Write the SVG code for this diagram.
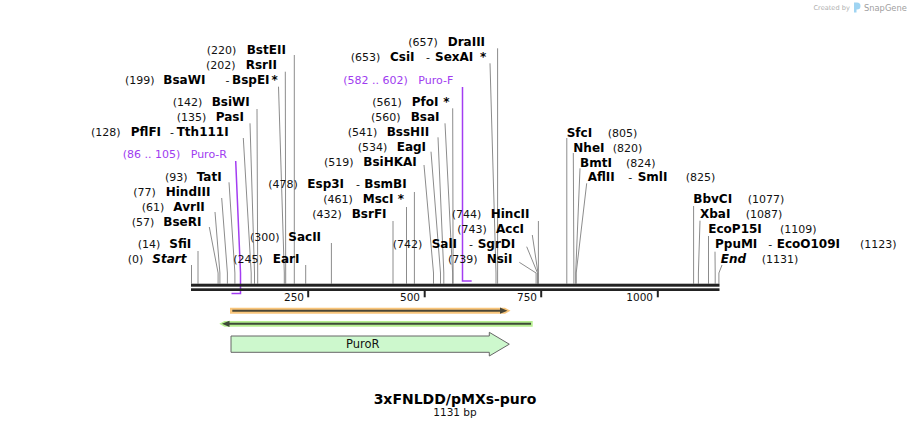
<svg xmlns="http://www.w3.org/2000/svg" width="911" height="429" viewBox="0 0 911 429">
<style>
text{font-family:"DejaVu Sans",Verdana,sans-serif;font-size:11px;fill:#111}
.e{font-weight:bold;font-size:12px;fill:#000}
.i{font-weight:bold;font-style:italic;font-size:12px;fill:#000}
.pr{fill:#a03cf0}
.cut{fill:none;stroke:#8c8c8c;stroke-width:1}
.pl{fill:none;stroke:#a33cf2;stroke-width:1.5}
.tk{font-size:10.5px}
.bb{fill:#222}
</style>
<rect width="911" height="429" fill="#fff"/>
<g id="credit">
<text x="813.5" y="10" style="font-size:6.6px;fill:#b0b0b0">Created by</text>
<path d="M854,2.5 h3 a3.5,3.5 0 0 1 0,7 h-0.5 v3 h-2.5 z" fill="#9fd4f2"/>
<text x="864" y="10.7" style="font-size:8.3px;fill:#a0a0a0">SnapGene</text>
</g>
<g id="connectors">
<path class="cut" d="M191.5,265 V283.7"/>
<path class="cut" d="M198,251 V283.7"/>
<path class="cut" d="M209.3,227 L218.1,273 V283.7"/>
<path class="cut" d="M215,212 L219.9,273 V283.7"/>
<path class="cut" d="M221.7,198 L227.4,273 V283.7"/>
<path class="cut" d="M229,182.3 L234.9,273 V283.7"/>
<path class="cut" d="M243.3,138 L251.2,273 V283.7"/>
<path class="cut" d="M250,123.3 L254.5,273 V283.7"/>
<path class="cut" d="M257,109 L257.7,273 V283.7"/>
<path class="cut" d="M278.5,86.7 L284.3,273 V283.7"/>
<path class="cut" d="M285.3,71.7 L285.7,273 V283.7"/>
<path class="cut" d="M294.3,55 V283.7"/>
<path class="cut" d="M305.7,265 V283.7"/>
<path class="cut" d="M331.4,243 V283.7"/>
<path class="cut" d="M393,221 V283.7"/>
<path class="cut" d="M406.5,207 V283.7"/>
<path class="cut" d="M414.4,192 V283.7"/>
<path class="cut" d="M424,165 L433.5,273 V283.7"/>
<path class="cut" d="M431,151.7 L440.5,273 V283.7"/>
<path class="cut" d="M438,137.3 L443.8,273 V283.7"/>
<path class="cut" d="M445,123.3 L452.6,273 V283.7"/>
<path class="cut" d="M452.7,108.3 L453.1,273 V283.7"/>
<path class="cut" d="M490,63.3 L496,273 V283.7"/>
<path class="cut" d="M497.6,48.3 V283.7"/>
<path class="cut" d="M519.3,262.3 L536.1,273 V283.7"/>
<path class="cut" d="M526.7,246.7 L537.5,273 V283.7"/>
<path class="cut" d="M532.3,235 L538,273 V283.7"/>
<path class="cut" d="M538.4,221 V283.7"/>
<path class="cut" d="M566.8,138 V283.7"/>
<path class="cut" d="M573.3,153 L573.9,273 V283.7"/>
<path class="cut" d="M580,168.3 L575.7,273 V283.7"/>
<path class="cut" d="M586.7,183.3 L576.2,273 V283.7"/>
<path class="cut" d="M693.6,206 V283.7"/>
<path class="cut" d="M700,220.7 L698.4,273 V283.7"/>
<path class="cut" d="M708.5,236 V283.7"/>
<path class="cut" d="M715,251.7 L715.2,273 V283.7"/>
<path class="cut" d="M722,265 L718.9,273 V283.7"/>
<path class="pl" d="M235.7,161 L240.5,273 V293.5 H231.5"/>
<path class="pl" d="M462.5,87 V281 H471.7"/>
</g>
<g id="backbone">
<rect class="bb" x="191" y="283.7" width="528.5" height="3"/>
<rect class="bb" x="191" y="288.3" width="528.5" height="2.7"/>
<rect class="bb" x="307.2" y="290.7" width="2" height="6.6"/>
<rect class="bb" x="423.7" y="290.7" width="2" height="6.6"/>
<rect class="bb" x="540.2" y="290.7" width="2" height="6.6"/>
<rect class="bb" x="656.8" y="290.7" width="2" height="6.6"/>
<text class="tk" x="304" y="300.7" text-anchor="end">250</text>
<text class="tk" x="420" y="300.7" text-anchor="end">500</text>
<text class="tk" x="537" y="300.7" text-anchor="end">750</text>
<text class="tk" x="653" y="300.7" text-anchor="end">1000</text>
</g>
<g id="site-BstEII"><text y="54"><tspan x="206.7">(220)</tspan><tspan class="e" x="246.7">BstEII</tspan></text></g>
<g id="site-RsrII"><text y="69"><tspan x="206">(202)</tspan><tspan class="e" x="245.7">RsrII</tspan></text></g>
<g id="site-BsaWI"><text y="84"><tspan x="125">(199)</tspan><tspan class="e" x="163.3">BsaWI</tspan><tspan x="225.5">-</tspan><tspan class="e" x="232">BspEI</tspan><tspan class="e" x="271.5">*</tspan></text></g>
<g id="site-BsiWI"><text y="106"><tspan x="172.7">(142)</tspan><tspan class="e" x="211.7">BsiWI</tspan></text></g>
<g id="site-PasI"><text y="121"><tspan x="176.7">(135)</tspan><tspan class="e" x="215.7">PasI</tspan></text></g>
<g id="site-PflFI"><text y="136"><tspan x="91">(128)</tspan><tspan class="e" x="130.7">PflFI</tspan><tspan x="170">-</tspan><tspan class="e" x="176.7">Tth111I</tspan></text></g>
<g id="primer-PuroR"><text class="pr" y="158"><tspan x="122.7">(86 .. 105)</tspan><tspan x="190.7">Puro-R</tspan></text></g>
<g id="site-TatI"><text y="181"><tspan x="165">(93)</tspan><tspan class="e" x="196.7">TatI</tspan></text></g>
<g id="site-HindIII"><text y="196"><tspan x="133.3">(77)</tspan><tspan class="e" x="165.7">HindIII</tspan></text></g>
<g id="site-AvrII"><text y="211"><tspan x="141.7">(61)</tspan><tspan class="e" x="173.3">AvrII</tspan></text></g>
<g id="site-BseRI"><text y="226"><tspan x="131.7">(57)</tspan><tspan class="e" x="163.3">BseRI</tspan></text></g>
<g id="site-SfiI"><text y="248"><tspan x="137.7">(14)</tspan><tspan class="e" x="169.3">SfiI</tspan></text></g>
<g id="site-Start"><text y="263"><tspan x="127.7">(0)</tspan><tspan class="i" x="152.3">Start</tspan></text></g>
<g id="site-EarI"><text y="263"><tspan x="233.3">(245)</tspan><tspan class="e" x="272.7">EarI</tspan></text></g>
<g id="site-SacII"><text y="241"><tspan x="250">(300)</tspan><tspan class="e" x="288.3">SacII</tspan></text></g>
<g id="site-BsrFI"><text y="218"><tspan x="312.3">(432)</tspan><tspan class="e" x="351.7">BsrFI</tspan></text></g>
<g id="site-MscI"><text y="203"><tspan x="323.3">(461)</tspan><tspan class="e" x="362.7">MscI</tspan><tspan class="e" x="397.7">*</tspan></text></g>
<g id="site-Esp3I"><text y="188"><tspan x="268.3">(478)</tspan><tspan class="e" x="307.3">Esp3I</tspan><tspan x="356">-</tspan><tspan class="e" x="364.3">BsmBI</tspan></text></g>
<g id="site-BsiHKAI"><text y="166"><tspan x="324">(519)</tspan><tspan class="e" x="363.3">BsiHKAI</tspan></text></g>
<g id="site-EagI"><text y="151"><tspan x="357.7">(534)</tspan><tspan class="e" x="396.7">EagI</tspan></text></g>
<g id="site-BssHII"><text y="136"><tspan x="347.7">(541)</tspan><tspan class="e" x="386.7">BssHII</tspan></text></g>
<g id="site-BsaI"><text y="121"><tspan x="371">(560)</tspan><tspan class="e" x="410.7">BsaI</tspan></text></g>
<g id="site-PfoI"><text y="106"><tspan x="372.3">(561)</tspan><tspan class="e" x="411.7">PfoI</tspan><tspan class="e" x="443.3">*</tspan></text></g>
<g id="primer-PuroF"><text class="pr" y="84"><tspan x="343.3">(582 .. 602)</tspan><tspan x="418.3">Puro-F</tspan></text></g>
<g id="site-CsiI"><text y="61"><tspan x="350.7">(653)</tspan><tspan class="e" x="390">CsiI</tspan><tspan x="426">-</tspan><tspan class="e" x="435">SexAI</tspan><tspan class="e" x="480">*</tspan></text></g>
<g id="site-DraIII"><text y="46"><tspan x="408.3">(657)</tspan><tspan class="e" x="447.7">DraIII</tspan></text></g>
<g id="site-HincII"><text y="218"><tspan x="451.7">(744)</tspan><tspan class="e" x="490.7">HincII</tspan></text></g>
<g id="site-AccI"><text y="233"><tspan x="457.3">(743)</tspan><tspan class="e" x="496">AccI</tspan></text></g>
<g id="site-SalI"><text y="248"><tspan x="392.7">(742)</tspan><tspan class="e" x="431.7">SalI</tspan><tspan x="469">-</tspan><tspan class="e" x="477.7">SgrDI</tspan></text></g>
<g id="site-NsiI"><text y="263"><tspan x="448">(739)</tspan><tspan class="e" x="486.7">NsiI</tspan></text></g>
<g id="site-SfcI"><text y="137"><tspan class="e" x="566.7">SfcI</tspan><tspan x="607.7">(805)</tspan></text></g>
<g id="site-NheI"><text y="152"><tspan class="e" x="573.3">NheI</tspan><tspan x="612.7">(820)</tspan></text></g>
<g id="site-BmtI"><text y="167"><tspan class="e" x="580">BmtI</tspan><tspan x="626">(824)</tspan></text></g>
<g id="site-AflII"><text y="181"><tspan class="e" x="587.7">AflII</tspan><tspan x="628.3">-</tspan><tspan class="e" x="637.7">SmlI</tspan><tspan x="685.7">(825)</tspan></text></g>
<g id="site-BbvCI"><text y="203"><tspan class="e" x="693.3">BbvCI</tspan><tspan x="747.7">(1077)</tspan></text></g>
<g id="site-XbaI"><text y="218"><tspan class="e" x="700">XbaI</tspan><tspan x="745.7">(1087)</tspan></text></g>
<g id="site-EcoP15I"><text y="233"><tspan class="e" x="708.3">EcoP15I</tspan><tspan x="780">(1109)</tspan></text></g>
<g id="site-PpuMI"><text y="248"><tspan class="e" x="715">PpuMI</tspan><tspan x="768.3">-</tspan><tspan class="e" x="776.7">EcoO109I</tspan><tspan x="860">(1123)</tspan></text></g>
<g id="site-End"><text y="263"><tspan class="i" x="720.7">End</tspan><tspan x="761.7">(1131)</tspan></text></g>
<g id="feature-orange">
<polygon points="230,307.7 505,307.7 510.5,310.7 505,313.7 230,313.7" fill="#f9c57a"/>
<line x1="232.3" y1="310.7" x2="502" y2="310.7" stroke="#4a4636" stroke-width="2"/>
<polygon points="500,307.6 507.5,310.7 500,313.8" fill="#4a4636"/>
</g>
<g id="feature-green">
<polygon points="224.5,321 532.7,321 532.7,326.7 224.5,326.7 219.3,323.85" fill="#b6ef90"/>
<line x1="228" y1="323.85" x2="531" y2="323.85" stroke="#3e4a38" stroke-width="2"/>
<polygon points="229.5,320.7 222,323.85 229.5,327" fill="#3e4a38"/>
</g>
<g id="feature-PuroR">
<path d="M231,336 L489.3,336 L489.3,332.3 L509.3,344.2 L489.3,356 L489.3,352.3 L231,352.3 Z" fill="#cdf8cd" stroke="#666" stroke-width="1"/>
<text x="362.8" y="347.8" text-anchor="middle" style="font-size:11.5px">PuroR</text>
</g>
<g id="title">
<text x="455" y="403.5" text-anchor="middle" style="font-size:14px;font-weight:bold;fill:#000">3xFNLDD/pMXs-puro</text>
<text x="455" y="416" text-anchor="middle" style="font-size:10.5px">1131 bp</text>
</g>
</svg>
